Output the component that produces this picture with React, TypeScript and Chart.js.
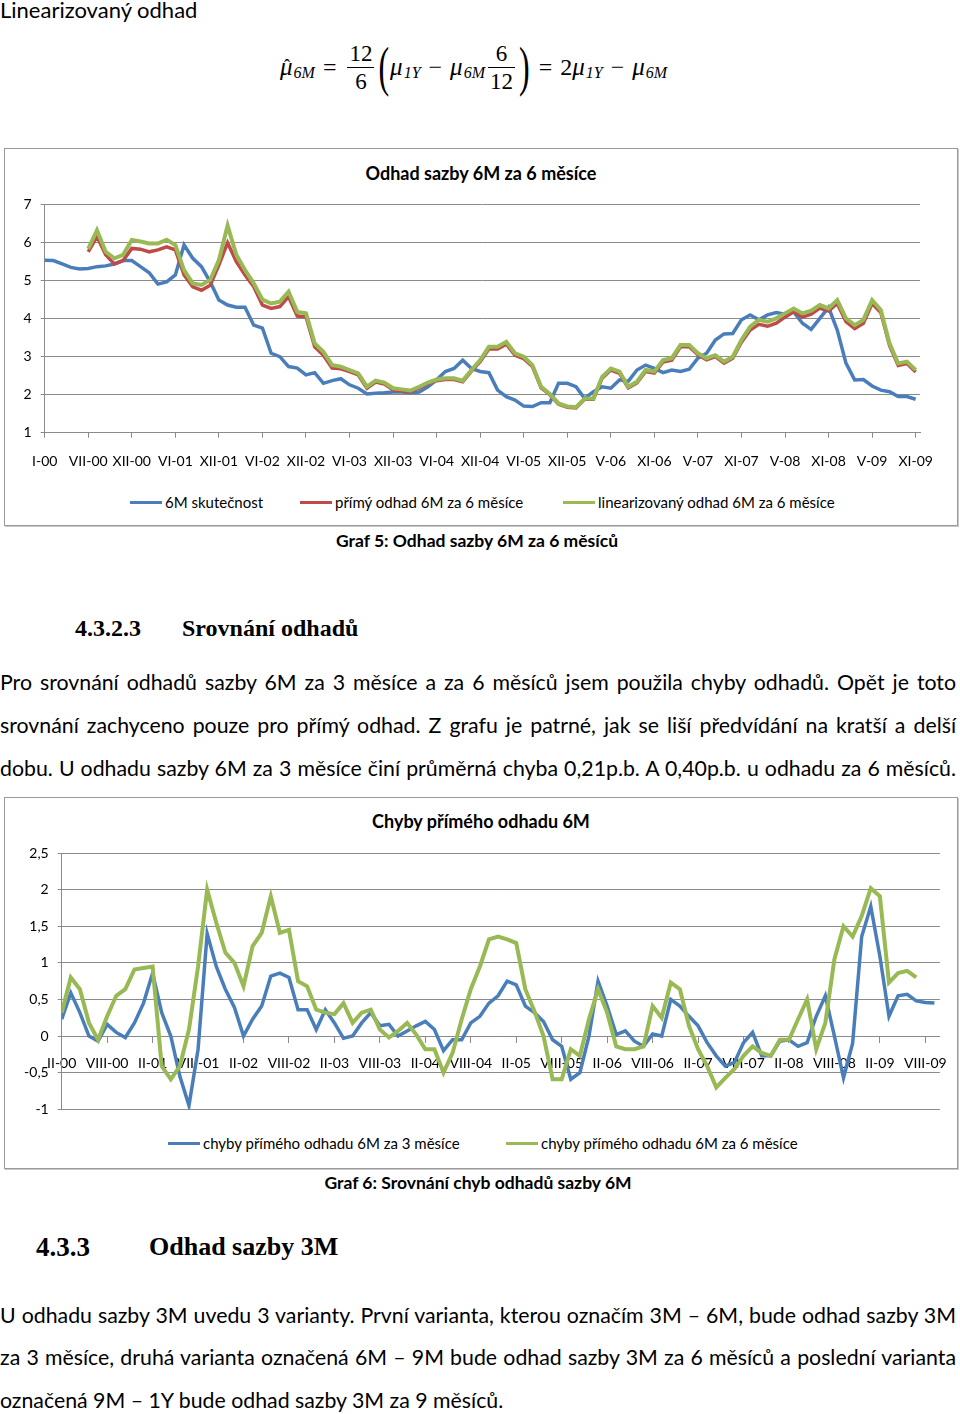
import React, { useEffect, useRef } from "react";
import { Chart, registerables } from "chart.js";

Chart.register(...registerables);

// ---------- data ----------
// sampling step on the x axis, expressed in label intervals
const STEP = 0.2;

const labels1 = ["I-00","VII-00","XII-00","VI-01","XII-01","VI-02","XII-02","VI-03","XII-03","VI-04","XII-04","VI-05","XII-05","V-06","XI-06","V-07","XI-07","V-08","XI-08","V-09","XI-09"];

const actual6M = [5.54,5.53,5.44,5.35,5.31,5.32,5.37,5.39,5.44,5.53,
 5.53,5.37,5.21,4.91,4.97,5.15,5.94,5.59,5.37,4.97,
 4.49,4.36,4.30,4.30,3.83,3.75,3.09,3.00,2.74,2.70,
 2.52,2.58,2.30,2.37,2.42,2.26,2.17,2.02,2.04,2.05,
 2.07,2.07,2.05,2.07,2.21,2.39,2.61,2.69,2.91,2.69,
 2.61,2.58,2.12,1.95,1.86,1.70,1.69,1.79,1.79,2.30,
 2.30,2.21,1.90,2.08,2.21,2.17,2.39,2.35,2.65,2.78,
 2.69,2.58,2.65,2.61,2.67,2.96,3.09,3.44,3.60,3.61,
 3.97,4.10,3.97,4.10,4.16,4.12,4.18,3.88,3.72,4.01,
 4.30,3.70,2.83,2.39,2.40,2.23,2.12,2.08,1.95,1.95,
 1.88];

const direct6M = [null,null,null,null,null,5.76,6.16,5.68,5.44,5.53,
 5.85,5.83,5.76,5.81,5.89,5.81,5.15,4.84,4.75,4.88,
 5.41,6.00,5.50,5.15,4.84,4.36,4.27,4.32,4.58,4.07,
 4.05,3.26,3.04,2.70,2.68,2.61,2.52,2.17,2.33,2.28,
 2.13,2.10,2.08,2.18,2.29,2.37,2.40,2.40,2.34,2.62,
 2.87,3.20,3.20,3.33,3.04,2.95,2.74,2.18,2.00,1.75,
 1.67,1.65,1.88,1.88,2.43,2.65,2.56,2.18,2.31,2.61,
 2.57,2.86,2.91,3.26,3.26,3.05,2.92,3.00,2.83,2.96,
 3.38,3.70,3.85,3.80,3.88,4.04,4.18,4.04,4.12,4.28,
 4.20,4.40,3.92,3.74,3.88,4.40,4.16,3.30,2.77,2.82,
 2.60];

const linear6M = [null,null,null,null,null,5.84,6.33,5.76,5.59,5.68,
 6.07,6.03,5.98,5.98,6.08,5.94,5.28,4.93,4.89,5.02,
 5.54,6.45,5.68,5.28,4.93,4.50,4.40,4.45,4.71,4.18,
 4.14,3.35,3.13,2.78,2.74,2.65,2.56,2.21,2.37,2.32,
 2.17,2.14,2.11,2.21,2.32,2.40,2.43,2.43,2.37,2.65,
 2.91,3.26,3.26,3.39,3.09,3.00,2.78,2.21,2.02,1.77,
 1.69,1.67,1.90,1.90,2.47,2.69,2.61,2.21,2.34,2.65,
 2.61,2.91,2.96,3.31,3.31,3.09,2.96,3.04,2.87,3.00,
 3.44,3.79,3.97,3.92,4.01,4.14,4.27,4.14,4.21,4.36,
 4.27,4.49,4.01,3.83,3.97,4.49,4.23,3.35,2.82,2.87,
 2.65];

const labels2 = ["II-00","VIII-00","II-01","VIII-01","II-02","VIII-02","II-03","VIII-03","II-04","VIII-04","II-05","VIII-05","II-06","VIII-06","II-07","VIII-07","II-08","VIII-08","II-09","VIII-09"];

const err3M = [0.23,0.59,0.32,0.00,-0.07,0.16,0.05,-0.02,0.18,0.45,
 0.86,0.32,0.00,-0.55,-0.95,-0.18,1.40,0.95,0.64,0.39,
 0.00,0.23,0.41,0.82,0.86,0.80,0.36,0.36,0.09,0.36,
 0.18,-0.03,0.00,0.18,0.32,0.14,0.16,0.00,0.07,0.14,
 0.20,0.09,-0.20,-0.05,-0.05,0.18,0.27,0.45,0.55,0.75,
 0.70,0.41,0.32,0.20,-0.05,-0.14,-0.59,-0.50,0.00,0.75,
 0.41,0.02,0.07,-0.07,-0.14,0.03,0.00,0.50,0.41,0.27,
 0.14,-0.09,-0.27,-0.41,-0.36,-0.09,0.05,-0.27,-0.27,-0.07,
 -0.05,-0.14,-0.09,0.27,0.55,0.00,-0.57,-0.10,1.36,1.77,
 1.09,0.27,0.55,0.57,0.48,0.46,0.45];

const err6M = [0.32,0.80,0.64,0.18,-0.05,0.27,0.55,0.64,0.91,0.93,
 0.95,-0.41,-0.59,-0.41,0.09,0.95,2.00,1.55,1.14,1.00,
 0.68,1.23,1.41,1.91,1.41,1.45,0.75,0.68,0.36,0.32,
 0.30,0.45,0.18,0.32,0.36,0.09,-0.02,0.07,0.18,0.02,
 -0.18,-0.18,-0.50,-0.23,0.23,0.64,0.95,1.32,1.36,1.32,
 1.27,0.64,0.34,0.00,-0.59,-0.59,-0.18,-0.27,0.23,0.64,
 0.32,-0.14,-0.18,-0.18,-0.14,0.41,0.25,0.73,0.64,0.14,
 -0.18,-0.41,-0.70,-0.57,-0.45,-0.27,-0.14,-0.23,-0.27,-0.05,
 -0.05,0.23,0.50,-0.18,0.18,1.05,1.50,1.36,1.64,2.02,
 1.91,0.73,0.86,0.89,0.80];

// ---------- styles ----------
const BLUE = "#4A7EBB";
const RED = "#BE4B48";
const GREEN = "#98B954";
const GRID = "#8a8a8a";
const SANS = 'Lato, "Open Sans", sans-serif';
const SERIF = '"Liberation Serif", "DejaVu Serif", serif';
const MATH = '"Liberation Serif", "DejaVu Serif", serif';

const toPoints = (arr: (number | null)[]) => arr.map((v, i) => ({ x: Math.round(i * STEP * 100) / 100, y: v }));

function ChartCanvas(props: { left: number; top: number; width: number; height: number; make: () => any }) {
  const ref = useRef<HTMLCanvasElement>(null);
  useEffect(() => {
    const chart = new Chart(ref.current as HTMLCanvasElement, props.make());
    return () => chart.destroy();
  }, []);
  return (
    <canvas
      ref={ref}
      width={props.width}
      height={props.height}
      style={{ position: "absolute", left: props.left, top: props.top, width: props.width, height: props.height }}
    />
  );
}

const tickFont = { family: SANS, size: 14 };

function makeChart1() {
  return {
    type: "line",
    data: {
      datasets: [
        { label: "linearizovaný odhad 6M za 6 měsíce", data: toPoints(linear6M), borderColor: GREEN, borderWidth: 4, pointRadius: 0, order: 0 },
        { label: "přímý odhad 6M za 6 měsíce", data: toPoints(direct6M), borderColor: RED, borderWidth: 3.5, pointRadius: 0, order: 1 },
        { label: "6M skutečnost", data: toPoints(actual6M), borderColor: BLUE, borderWidth: 3.5, pointRadius: 0, order: 2 },
      ],
    },
    options: {
      animation: false,
      responsive: false,
      devicePixelRatio: 1,
      layout: { padding: { top: 19.7, right: 35, bottom: 0, left: 0 } },
      plugins: { legend: { display: false }, tooltip: { enabled: false }, title: { display: false } },
      elements: { line: { tension: 0 } },
      scales: {
        x: {
          type: "linear",
          min: 0,
          max: 20.1,
          afterBuildTicks: (s: any) => { s.ticks = labels1.map((_, i) => ({ value: i })); },
          afterFit: (s: any) => { s.height = 47.3; },
          ticks: { autoSkip: false, maxRotation: 0, padding: 15, color: "#000", font: tickFont, callback: (v: number) => labels1[v] ?? "" },
          grid: { drawOnChartArea: false, drawTicks: true, tickLength: 5, color: GRID },
          border: { display: true, color: GRID, width: 1 },
        },
        y: {
          min: 1,
          max: 7,
          afterFit: (s: any) => { s.width = 39.7; },
          ticks: { stepSize: 1, padding: 9, color: "#000", font: tickFont },
          grid: { color: GRID, tickLength: 4 },
          border: { display: true, color: GRID, width: 1 },
        },
      },
    },
  };
}

function makeChart2() {
  return {
    type: "line",
    data: {
      datasets: [
        { label: "chyby přímého odhadu 6M za 6 měsíce", data: toPoints(err6M), borderColor: GREEN, borderWidth: 4, pointRadius: 0, order: 0 },
        { label: "chyby přímého odhadu 6M za 3 měsíce", data: toPoints(err3M), borderColor: BLUE, borderWidth: 3.5, pointRadius: 0, order: 1 },
      ],
    },
    options: {
      animation: false,
      responsive: false,
      devicePixelRatio: 1,
      layout: { padding: { top: 20, right: 20, bottom: 20.7, left: 0 } },
      plugins: { legend: { display: false }, tooltip: { enabled: false }, title: { display: false } },
      elements: { line: { tension: 0 } },
      scales: {
        x: {
          type: "linear",
          position: { y: 0 },
          min: 0,
          max: 19.32,
          afterBuildTicks: (s: any) => { s.ticks = labels2.map((_, i) => ({ value: i })); },
          ticks: { autoSkip: false, maxRotation: 0, padding: 13, color: "#000", font: tickFont, callback: (v: number) => labels2[v] ?? "" },
          grid: { drawOnChartArea: false, drawTicks: true, tickLength: 6, color: GRID },
          border: { display: true, color: GRID, width: 1 },
        },
        y: {
          min: -1,
          max: 2.5,
          afterFit: (s: any) => { s.width = 56.7; },
          ticks: { stepSize: 0.5, padding: 9, color: "#000", font: tickFont, callback: (v: number) => String(v).replace(".", ",") },
          grid: { color: GRID, tickLength: 4 },
          border: { display: true, color: GRID, width: 1 },
        },
      },
    },
  };
}

// ---------- page pieces ----------
function Text(props: { x: number; cy: number; size: number; bold?: boolean; family?: string; children: React.ReactNode; center?: boolean }) {
  const lh = Math.round(props.size * 1.3);
  const style: React.CSSProperties = {
    position: "absolute",
    top: props.cy - lh / 2,
    lineHeight: lh + "px",
    fontSize: props.size,
    fontFamily: props.family ?? SANS,
    fontWeight: props.bold ? 700 : 400,
    whiteSpace: "nowrap",
    color: "#000",
  };
  if (props.center) {
    style.left = props.x - 400;
    style.width = 800;
    style.textAlign = "center";
  } else {
    style.left = props.x;
  }
  return <div style={style}>{props.children}</div>;
}

function JLine(props: { cy: number; text: string; last?: boolean }) {
  const size = 21.3;
  const lh = 30;
  return (
    <div
      style={{
        position: "absolute",
        left: 0,
        top: props.cy - lh / 2,
        width: props.last ? undefined : 956,
        lineHeight: lh + "px",
        fontSize: size,
        fontFamily: SANS,
        whiteSpace: "nowrap",
        textAlign: "justify",
        textAlignLast: props.last ? "left" : "justify",
        color: "#000",
      }}
    >
      {props.text}
    </div>
  );
}

function LegendItem(props: { x: number; cy: number; color: string; text: string }) {
  return (
    <>
      <div style={{ position: "absolute", left: props.x, top: props.cy - 1.5, width: 32, height: 3, background: props.color }} />
      <Text x={props.x + 35} cy={props.cy} size={15}>{props.text}</Text>
    </>
  );
}

const mathI: React.CSSProperties = { fontStyle: "italic", fontFamily: MATH, fontSize: 25 };
function Sub(props: { children: React.ReactNode }) {
  return <span style={{ fontStyle: "italic", fontFamily: MATH, fontSize: 16, position: "relative", top: 6, marginLeft: 1 }}>{props.children}</span>;
}
function Frac(props: { n: string; d: string }) {
  return (
    <span style={{ display: "inline-flex", flexDirection: "column", alignItems: "center", verticalAlign: "middle", margin: "0 3px", fontFamily: MATH, fontSize: 23, lineHeight: "27px" }}>
      <span style={{ padding: "0 2px" }}>{props.n}</span>
      <span style={{ borderTop: "1.3px solid #000", padding: "0 2px", alignSelf: "stretch", textAlign: "center" }}>{props.d}</span>
    </span>
  );
}
function Paren(props: { c: string }) {
  return <span style={{ fontFamily: MATH, fontSize: 32, display: "inline-block", transform: "scaleY(1.7)", margin: "0 1px" }}>{props.c}</span>;
}
function Op(props: { c: string }) {
  return <span style={{ margin: "0 8px", fontFamily: MATH, fontSize: 24 }}>{props.c}</span>;
}

function Formula() {
  return (
    <div style={{ position: "absolute", left: 280, top: 38, height: 58, display: "flex", alignItems: "center", whiteSpace: "nowrap", color: "#000" }}>
      <span style={{ ...mathI, position: "relative", display: "inline-block" }}>
        μ
        <span style={{ position: "absolute", left: 4, top: 3, fontStyle: "normal", fontSize: 18 }}>ˆ</span>
      </span>
      <Sub>6M</Sub>
      <Op c="=" />
      <Frac n="12" d="6" />
      <Paren c="(" />
      <span style={mathI}>μ</span><Sub>1Y</Sub>
      <Op c="−" />
      <span style={mathI}>μ</span><Sub>6M</Sub>
      <Frac n="6" d="12" />
      <Paren c=")" />
      <Op c="=" />
      <span style={{ fontFamily: MATH, fontSize: 24 }}>2</span><span style={mathI}>μ</span><Sub>1Y</Sub>
      <Op c="−" />
      <span style={mathI}>μ</span><Sub>6M</Sub>
    </div>
  );
}

export default function App() {
  return (
    <div style={{ position: "absolute", left: 0, top: 0, width: 960, height: 1414, background: "#fff", overflow: "hidden" }}>
      <Text x={0} cy={9} size={22}>Linearizovaný odhad</Text>
      <Formula />

      {/* Chart 1 */}
      <div style={{ position: "absolute", left: 4, top: 148, width: 952, height: 376, border: "1px solid #9a9a9a", boxShadow: "1px 1px 0 #c8c8c8" }} />
      <Text x={481} cy={173} size={18} bold center>Odhad sazby 6M za 6 měsíce</Text>
      <ChartCanvas left={5} top={185} width={950} height={295} make={makeChart1} />
      <LegendItem x={130} cy={502} color={BLUE} text="6M skutečnost" />
      <LegendItem x={300} cy={502} color={RED} text="přímý odhad 6M za 6 měsíce" />
      <LegendItem x={563} cy={502} color={GREEN} text="linearizovaný odhad 6M za 6 měsíce" />
      <Text x={477} cy={540} size={17.5} bold center>Graf 5: Odhad sazby 6M za 6 měsíců</Text>

      <Text x={75} cy={628} size={24} bold family={SERIF}>4.3.2.3</Text>
      <Text x={182} cy={628} size={24} bold family={SERIF}>Srovnání odhadů</Text>

      <JLine cy={682} text="Pro srovnání odhadů sazby 6M za 3 měsíce a za 6 měsíců jsem použila chyby odhadů. Opět je toto" />
      <JLine cy={725} text="srovnání zachyceno pouze pro přímý odhad. Z grafu je patrné, jak se liší předvídání na kratší a delší" />
      <JLine cy={768} text="dobu. U odhadu sazby 6M za 3 měsíce činí průměrná chyba 0,21p.b. A 0,40p.b. u odhadu za 6 měsíců." />

      {/* Chart 2 */}
      <div style={{ position: "absolute", left: 4, top: 797, width: 952, height: 370, border: "1px solid #9a9a9a", boxShadow: "1px 1px 0 #c8c8c8" }} />
      <Text x={481} cy={821} size={18} bold center>Chyby přímého odhadu 6M</Text>
      <ChartCanvas left={5} top={833} width={955} height={297} make={makeChart2} />
      <LegendItem x={168} cy={1143} color={BLUE} text="chyby přímého odhadu 6M za 3 měsíce" />
      <LegendItem x={506} cy={1143} color={GREEN} text="chyby přímého odhadu 6M za 6 měsíce" />
      <Text x={478} cy={1182} size={17.5} bold center>Graf 6: Srovnání chyb odhadů sazby 6M</Text>

      <Text x={36} cy={1247} size={27} bold family={SERIF}>4.3.3</Text>
      <Text x={149} cy={1247} size={26} bold family={SERIF}>Odhad sazby 3M</Text>

      <JLine cy={1315} text="U odhadu sazby 3M uvedu 3 varianty. První varianta, kterou označím 3M – 6M, bude odhad sazby 3M" />
      <JLine cy={1357} text="za 3 měsíce, druhá varianta označená 6M – 9M bude odhad sazby 3M za 6 měsíců a poslední varianta" />
      <JLine cy={1400} text="označená 9M – 1Y bude odhad sazby 3M za 9 měsíců." last />
    </div>
  );
}
